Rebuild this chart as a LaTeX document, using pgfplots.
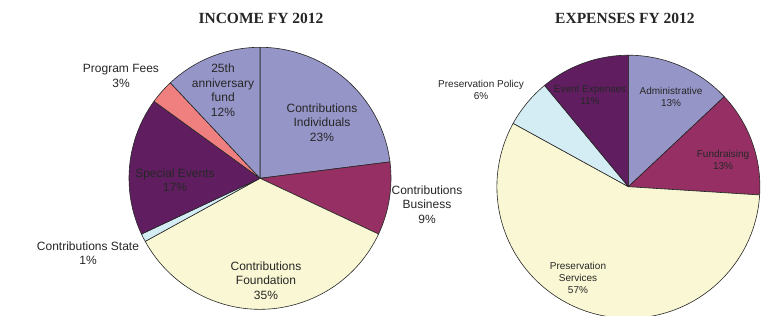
\documentclass[border=0pt]{standalone}
\usepackage{pgfplots}
\pgfplotsset{compat=1.18}
\usepackage{fontspec}
\setmainfont{Liberation Sans}
\newfontfamily\titlefont{Liberation Serif}
\definecolor{cLav}{RGB}{150,149,200}
\definecolor{cMar}{RGB}{150,48,100}
\definecolor{cYel}{RGB}{250,248,212}
\definecolor{cBlu}{RGB}{212,236,244}
\definecolor{cPur}{RGB}{96,30,96}
\definecolor{cSal}{RGB}{240,128,128}
\newcommand\pie[4]{% cx, cy, radius, list value/colour
  \gdef\ang{90}%
  \foreach \v/\c in {#4}{%
    \pgfmathsetmacro\newang{\ang-3.6*\v}%
    \filldraw[fill=\c, draw=black!85, line width=0.6pt, line join=round]
      (axis cs:#1,#2) -- ++(\ang:#3pt) arc[start angle=\ang, end angle=\newang, radius=#3pt] -- cycle;
    \global\let\ang\newang
  }%
}
\begin{document}
\begin{tikzpicture}
\begin{axis}[width=774pt,height=316pt,scale only axis,
  xmin=0,xmax=774,ymin=0,ymax=316,hide axis,clip=false]
% Income FY 2012 (percent), clockwise from top
\pgfplotsextra{\pie{260}{137.7}{131}{23/cLav,9/cMar,35/cYel,1/cBlu,17/cPur,3/cSal,12/cLav}}
% Expenses FY 2012 (percent), clockwise from top
\pgfplotsextra{\pie{628.4}{129.3}{131.5}{13/cLav,13/cMar,57/cYel,6/cBlu,11/cPur}}
\begin{scope}[every node/.style={align=center,text=black!85}]
\node[font=\titlefont\bfseries\fontsize{15.5}{18}\selectfont] at (axis cs:261,298) {INCOME FY 2012};
\node[font=\titlefont\bfseries\fontsize{15.5}{18}\selectfont] at (axis cs:625,298) {EXPENSES FY 2012};
\begin{scope}[every node/.append style={font=\fontsize{12}{14.5}\selectfont}]
\node at (axis cs:322,193.5) {Contributions\\Individuals\\23\%};
\node at (axis cs:427,111.5) {Contributions\\Business\\9\%};
\node at (axis cs:266,35.5) {Contributions\\Foundation\\35\%};
\node at (axis cs:88,63) {Contributions State\\1\%};
\node at (axis cs:175,136) {Special Events\\17\%};
\node at (axis cs:121,240) {Program Fees\\3\%};
\node at (axis cs:223,226) {25th\\anniversary\\fund\\12\%};
\end{scope}
\begin{scope}[every node/.append style={font=\fontsize{10}{12}\selectfont}]
\node at (axis cs:481,226) {Preservation Policy\\6\%};
\node at (axis cs:590,221) {Event Expenses\\11\%};
\node at (axis cs:671,219) {Administrative\\13\%};
\node at (axis cs:723,156) {Fundraising\\13\%};
\node at (axis cs:578,38.5) {Preservation\\Services\\57\%};
\end{scope}
\end{scope}
\end{axis}
\pgfresetboundingbox
\useasboundingbox (0,0) rectangle (774pt,316pt);
\end{tikzpicture}
\end{document}
